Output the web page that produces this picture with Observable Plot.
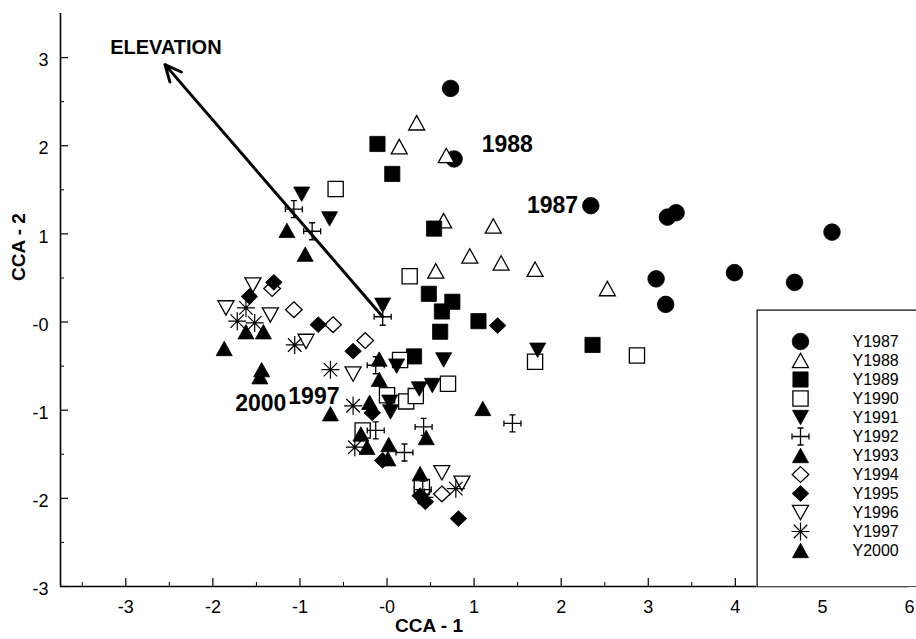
<!DOCTYPE html>
<html><head><meta charset="utf-8">
<script src="https://cdn.jsdelivr.net/npm/d3@7"></script>
<script src="https://cdn.jsdelivr.net/npm/@observablehq/plot@0.6"></script>
<style>
html,body{margin:0;padding:0;background:#fff;overflow:hidden;}
#wrap{position:relative;width:916px;height:639px;overflow:hidden;}
#legend{position:absolute;left:756px;top:309px;width:176px;}
#legend svg{max-width:none !important;}
</style></head><body><div id="wrap"><div id="main"></div><div id="legend"></div></div>
<script>
// ---- data (CCA-1, CCA-2) ----
const seriesNames = ["Y1987","Y1988","Y1989","Y1990","Y1991","Y1992","Y1993","Y1994","Y1995","Y1996","Y1997","Y2000"];
const Y1987 = [[0.73,2.65],[0.77,1.85],[2.34,1.32],[3.22,1.19],[3.32,1.24],[5.11,1.02],[3.09,0.49],[3.20,0.20],[3.99,0.56],[4.68,0.45]];
const Y1988 = [[0.34,2.26],[0.14,1.99],[0.68,1.89],[0.65,1.15],[1.22,1.09],[0.95,0.75],[1.31,0.67],[1.70,0.60],[0.56,0.58],[2.53,0.38]];
const Y1989 = [[-0.11,2.02],[0.06,1.68],[0.54,1.06],[0.48,0.32],[0.75,0.23],[0.63,0.12],[1.05,0.01],[0.61,-0.11],[0.31,-0.39],[2.36,-0.26]];
const Y1990 = [[-0.59,1.51],[0.26,0.52],[2.87,-0.38],[1.70,-0.45],[0.70,-0.70],[0.15,-0.43],[0.00,-0.83],[0.22,-0.90],[0.33,-0.84],[-0.28,-1.23],[0.40,-1.87]];
const Y1991 = [[-0.98,1.45],[-0.66,1.17],[-0.05,0.19],[0.65,-0.43],[0.11,-0.50],[1.73,-0.32],[0.37,-0.76],[0.52,-0.72],[0.03,-0.91],[0.04,-1.02]];
const Y1992 = [[-1.07,1.28],[-0.86,1.03],[-0.05,0.06],[-0.13,-0.49],[-0.13,-1.23],[0.42,-1.19],[0.20,-1.48],[1.44,-1.15],[0.41,-1.90]];
const Y1993 = [[-1.15,1.04],[-0.94,0.77],[-0.09,-0.42],[-0.09,-0.65],[1.10,-0.98],[0.45,-1.31],[0.02,-1.39],[0.38,-1.72]];
const Y1994 = [[-1.32,0.38],[-1.07,0.14],[-0.62,-0.03],[-0.25,-0.21],[0.63,-1.95]];
const Y1995 = [[-1.30,0.45],[-1.58,0.29],[-0.79,-0.03],[-0.39,-0.33],[1.27,-0.04],[-0.17,-1.03],[-0.05,-1.57],[0.38,-1.97],[0.44,-2.04],[0.82,-2.23]];
const Y1996 = [[-1.54,0.42],[-1.85,0.16],[-1.34,0.08],[-0.93,-0.22],[-0.39,-0.59],[0.63,-1.71],[0.86,-1.83]];
const Y1997 = [[-1.62,0.16],[-1.72,0.01],[-1.52,-0.01],[-1.06,-0.26],[-0.65,-0.54],[-0.39,-0.95],[-0.37,-1.42],[0.79,-1.89],[0.43,-1.99]];
const Y2000 = [[-1.62,-0.11],[-1.42,-0.11],[-1.87,-0.30],[-1.44,-0.54],[-1.46,-0.62],[-0.65,-1.04],[-0.20,-0.91],[-0.30,-1.27],[-0.23,-1.42],[0.01,-1.55]];

// environmental vector
const arrowFrom = [-0.05, 0.06];
const arrowTo = [-2.55, 2.92];

// annotations
const annText = ["1988","1987","2000","1997"];
const annX = [1.38, 1.90, -1.45, -0.84];
const annY = [2.01, 1.32, -0.93, -0.85];
const vecLabel = ["ELEVATION"];
const vecLabelX = [-2.54];
const vecLabelY = [3.11];

// ticks
const xTicks = [-3,-2,-1,0,1,2,3,4,5,6];
const yTicks = [-3,-2,-1,0,1,2,3];
const xMinor = [-3.5,-2.5,-1.5,-0.5,0.5,1.5,2.5,3.5,4.5,5.5];
const yMinor = [-2.5,-1.5,-0.5,0.5,1.5,2.5];
const fmt = d => d === 0 ? "-0" : String(d);

// ---- symbols ----
const rad = s => Math.sqrt(s / Math.PI);
const symCircle = {draw(c, s){ const r = rad(s); c.moveTo(r,0); c.arc(0,0,r,0,2*Math.PI); }};
const symTriUp = {draw(c, s){ const r = rad(s), h = r*0.9; c.moveTo(0,-h); c.lineTo(r,h); c.lineTo(-r,h); c.closePath(); }};
const symTriDown = {draw(c, s){ const r = rad(s), h = r*0.9; c.moveTo(0,h); c.lineTo(r,-h); c.lineTo(-r,-h); c.closePath(); }};
const symSquare = {draw(c, s){ const r = rad(s)*0.95; c.moveTo(-r,-r); c.lineTo(r,-r); c.lineTo(r,r); c.lineTo(-r,r); c.closePath(); }};
const symDiamond = {draw(c, s){ const r = rad(s), v = r*0.95; c.moveTo(0,-v); c.lineTo(r,0); c.lineTo(0,v); c.lineTo(-r,0); c.closePath(); }};
const symCrossCap = {draw(c, s){ const r = rad(s), k = 3;
  c.moveTo(-r,0); c.lineTo(r,0); c.moveTo(0,-r); c.lineTo(0,r);
  c.moveTo(-r,-k); c.lineTo(-r,k); c.moveTo(r,-k); c.lineTo(r,k);
  c.moveTo(-k,-r); c.lineTo(k,-r); c.moveTo(-k,r); c.lineTo(k,r); }};
const symAsterisk = {draw(c, s){ const r = rad(s), d = r*0.75;
  c.moveTo(-r,0); c.lineTo(r,0); c.moveTo(0,-r); c.lineTo(0,r);
  c.moveTo(-d,-d); c.lineTo(d,d); c.moveTo(-d,d); c.lineTo(d,-d); }};

const seriesData = [Y1987,Y1988,Y1989,Y1990,Y1991,Y1992,Y1993,Y1994,Y1995,Y1996,Y1997,Y2000];
const styles = [
  {symbol:symCircle, r:8.3, fill:"black", strokeWidth:0.8},
  {symbol:symTriUp, r:8, fill:"white", strokeWidth:1.3},
  {symbol:symSquare, r:8, fill:"black", strokeWidth:0.8},
  {symbol:symSquare, r:8, fill:"white", strokeWidth:1.3},
  {symbol:symTriDown, r:8, fill:"black", strokeWidth:0.8},
  {symbol:symCrossCap, r:8.5, fill:"none", strokeWidth:1.3},
  {symbol:symTriUp, r:8, fill:"black", strokeWidth:0.8},
  {symbol:symDiamond, r:8.3, fill:"white", strokeWidth:1.3},
  {symbol:symDiamond, r:8.3, fill:"black", strokeWidth:0.8},
  {symbol:symTriDown, r:8, fill:"white", strokeWidth:1.3},
  {symbol:symAsterisk, r:9, fill:"none", strokeWidth:1.2},
  {symbol:symTriUp, r:8, fill:"black", strokeWidth:0.8}
];

const F = "'Liberation Sans', Arial, sans-serif";

const dotMarks = seriesData.map((arr, i) => Plot.dot(arr, {
  x: d => d[0], y: d => d[1], symbol: styles[i].symbol, r: styles[i].r,
  fill: styles[i].fill, stroke: "black", strokeWidth: styles[i].strokeWidth
}));

const main = Plot.plot({
  width: 916, height: 639,
  marginLeft: 60, marginRight: 7, marginTop: 13, marginBottom: 53,
  style: {fontFamily: F, background: "white", color: "black"},
  x: {domain: [-3.75, 6]},
  y: {domain: [-3, 3.5]},
  marks: [
    Plot.axisX({ticks: xTicks, tickSize: 0, tickPadding: 14, tickFormat: fmt, fontSize: 18, label: null}),
    Plot.axisY({ticks: yTicks, tickSize: 0, tickPadding: 12, tickFormat: fmt, fontSize: 18, label: null, dy: 3}),
    Plot.ruleX(xTicks, {insetTop: 573 - 8, stroke: "black", strokeWidth: 1.2}),
    Plot.ruleX(xMinor, {insetTop: 573 - 4, stroke: "black", strokeWidth: 1}),
    Plot.ruleY(yTicks, {insetRight: 849 - 8, stroke: "black", strokeWidth: 1.2}),
    Plot.ruleY(yMinor, {insetRight: 849 - 4, stroke: "black", strokeWidth: 1}),
    Plot.ruleY([-3], {stroke: "black", strokeWidth: 1.6}),
    Plot.ruleX([-3.75], {stroke: "black", strokeWidth: 1.6}),
    ...dotMarks,
    Plot.arrow([0], {x1: () => arrowFrom[0], y1: () => arrowFrom[1], x2: () => arrowTo[0], y2: () => arrowTo[1],
      stroke: "black", strokeWidth: 3, headLength: 9, headAngle: 50}),
    Plot.text(vecLabel, {x: (d, i) => vecLabelX[i], y: (d, i) => vecLabelY[i], text: d => d,
      fontSize: 20, fontWeight: "bold"}),
    Plot.text(annText, {x: (d, i) => annX[i], y: (d, i) => annY[i], text: d => d,
      fontSize: 23, fontWeight: "bold"}),
    Plot.text(["CCA - 1"], {text: d => d, frameAnchor: "bottom", dx: -56, dy: 45, fontSize: 19, fontWeight: "bold"}),
    Plot.text(["CCA - 2"], {text: d => d, frameAnchor: "left", rotate: -90, dx: -42, dy: -19, fontSize: 19, fontWeight: "bold"})
  ]
});
document.getElementById("main").appendChild(main);

const legend = Plot.plot({
  width: 176, height: 278, margin: 0,
  style: {fontFamily: F, background: "white", color: "black"},
  y: {type: "point", domain: seriesNames, range: [19, 253], axis: null},
  marks: [
    Plot.frame({stroke: "black", fill: "white", strokeWidth: 1.2, inset: 0.6}),
    ...seriesNames.map((name, i) => Plot.dot([name], {
      y: d => d, frameAnchor: "left", dx: 44, symbol: styles[i].symbol, r: styles[i].r,
      fill: styles[i].fill, stroke: "black", strokeWidth: styles[i].strokeWidth
    })),
    Plot.text(seriesNames, {y: d => d, text: d => d, frameAnchor: "left", dx: 96, textAnchor: "start", fontSize: 16})
  ]
});
document.getElementById("legend").appendChild(legend);
</script>
</body></html>
